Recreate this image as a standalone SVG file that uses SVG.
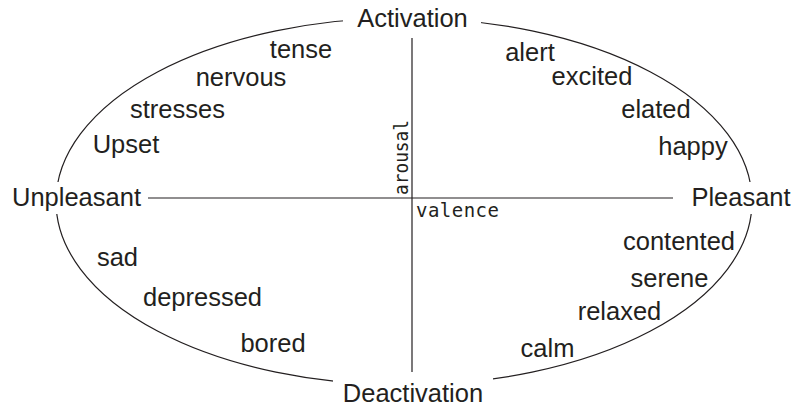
<svg xmlns="http://www.w3.org/2000/svg" width="792" height="409" viewBox="0 0 792 409">
<style>
.w{font-family:"Liberation Sans",Arial,sans-serif;font-size:25.5px;fill:#231f20;text-anchor:middle}
.m{font-family:"DejaVu Sans Mono",monospace;font-size:19px;fill:#231f20}
.ln{stroke:#231f20;stroke-width:1.2;fill:none}
</style>
<rect width="792" height="409" fill="#fff"/>
<g id="connectors">
<ellipse class="ln" cx="404" cy="201.5" rx="348" ry="183.5"/>
<rect x="343" y="0" width="138" height="36" fill="#fff"/>
<rect x="333" y="376" width="160" height="33" fill="#fff"/>
<rect x="0" y="182" width="150" height="32" fill="#fff"/>
<rect x="680" y="182" width="112" height="32" fill="#fff"/>
<line class="ln" x1="148" y1="198" x2="673" y2="198"/>
<line class="ln" x1="412" y1="38" x2="412" y2="372"/>
</g>
<g id="activation"><text class="w" x="412.5" y="27">Activation</text></g>
<g id="deactivation"><text class="w" x="413" y="401.5">Deactivation</text></g>
<g id="unpleasant"><text class="w" x="76.5" y="206">Unpleasant</text></g>
<g id="pleasant"><text class="w" x="741" y="206">Pleasant</text></g>
<g id="arousal"><text class="m" transform="translate(408,195) rotate(-90)" textLength="75" lengthAdjust="spacingAndGlyphs">arousal</text></g>
<g id="valence"><text class="m" x="416" y="217" textLength="83" lengthAdjust="spacing">valence</text></g>
<g id="tense"><text class="w" x="301" y="58">tense</text></g>
<g id="nervous"><text class="w" x="241" y="86">nervous</text></g>
<g id="stresses"><text class="w" x="177.5" y="117.5">stresses</text></g>
<g id="upset"><text class="w" x="126" y="153">Upset</text></g>
<g id="sad"><text class="w" x="117.5" y="266">sad</text></g>
<g id="depressed"><text class="w" x="202.5" y="306">depressed</text></g>
<g id="bored"><text class="w" x="273" y="352">bored</text></g>
<g id="alert"><text class="w" x="530" y="61">alert</text></g>
<g id="excited"><text class="w" x="592" y="85">excited</text></g>
<g id="elated"><text class="w" x="656" y="118">elated</text></g>
<g id="happy"><text class="w" x="693" y="155">happy</text></g>
<g id="contented"><text class="w" x="679" y="250">contented</text></g>
<g id="serene"><text class="w" x="669.5" y="286.5">serene</text></g>
<g id="relaxed"><text class="w" x="619.5" y="319.5">relaxed</text></g>
<g id="calm"><text class="w" x="547.5" y="356.5">calm</text></g>
</svg>
